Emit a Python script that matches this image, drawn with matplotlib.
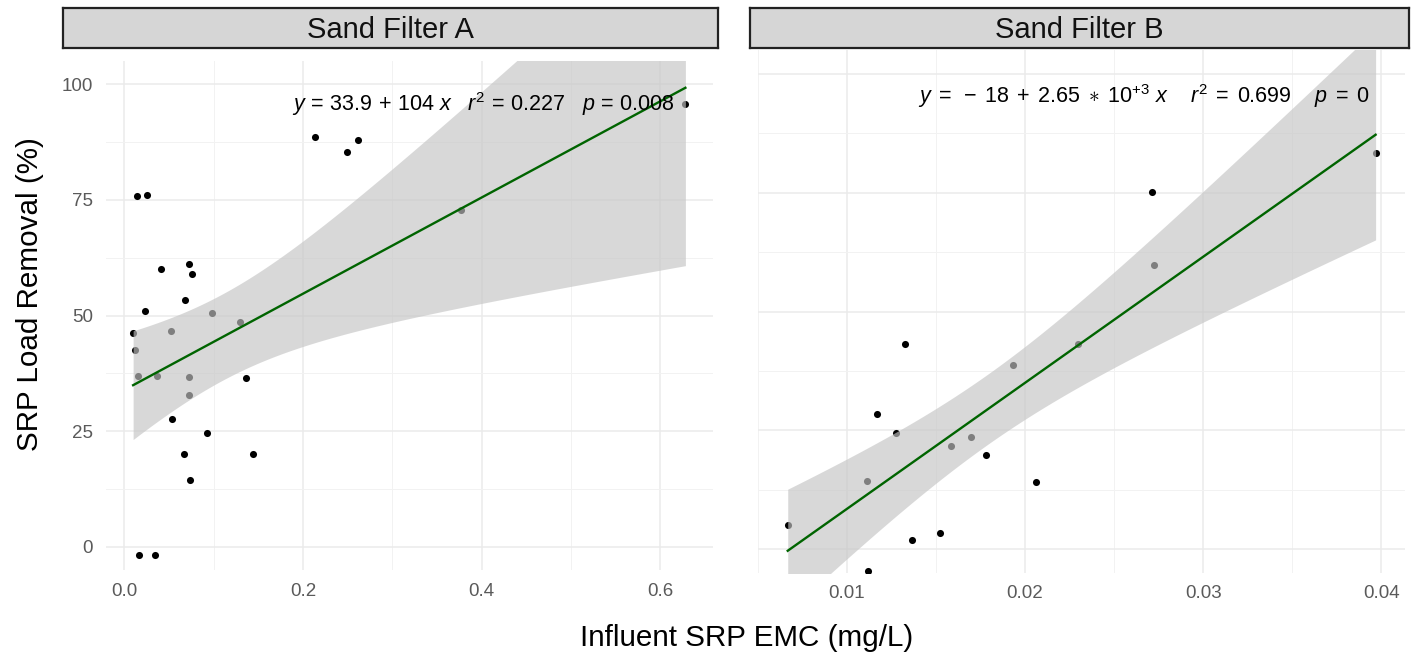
import numpy as np
import matplotlib
matplotlib.use("Agg")
import matplotlib.pyplot as plt

plt.rcParams['font.family'] = ['Liberation Sans', 'DejaVu Sans']
plt.rcParams['mathtext.fontset'] = 'custom'
plt.rcParams['mathtext.rm'] = 'Liberation Sans'
plt.rcParams['mathtext.it'] = 'Liberation Sans:italic'

#%% Data
# Sand Filter A
x_a = [0.010, 0.012, 0.015, 0.037, 0.052, 0.098, 0.130, 0.073, 0.072, 0.377,
       0.014, 0.026, 0.041, 0.072, 0.076, 0.068, 0.023, 0.213, 0.249, 0.262,
       0.628, 0.136, 0.054, 0.093, 0.067, 0.144, 0.074, 0.017, 0.034]
y_a = [46.2, 42.6, 36.9, 36.9, 46.6, 50.6, 48.6, 36.7, 32.9, 72.9,
       75.9, 76.0, 60.0, 61.2, 59.0, 53.4, 50.9, 88.6, 85.3, 88.0,
       95.8, 36.5, 27.6, 24.6, 20.1, 20.1, 14.4, -1.8, -1.8]

# Sand Filter B
x_b = [0.01324, 0.01935, 0.0230, 0.01168, 0.01275, 0.01697, 0.01585, 0.0178,
       0.01112, 0.02062, 0.00667, 0.01523, 0.01366, 0.01118, 0.02724, 0.02711,
       0.03969]
y_b = [43.2, 38.8, 43.2, 28.5, 24.4, 23.5, 21.8, 19.9,
       14.3, 14.1, 5.0, 3.5, 1.9, -4.5, 59.7, 75.1,
       83.3]

# fitted lines as printed on the chart (intercept, slope)
fit_a = (33.9, 104.0)
fit_b = (-18.0, 2650.0)
# residual sd of panel A, read from the width of its band
# (some observations of A fall outside the shown y range)
sd_a = 24.5

eq_a = r'$y\,=\,33.9\,+\,104\ x\quad r^2\,=\,0.227\quad p\,=\,0.008$'
eq_b = r'$y\;=\;-\;18\;+\;2.65\;\ast\;10^{+3}\ x\quad\ r^2\;=\;0.699\quad\ p\;=\;0$'

panels = ['Sand Filter A', 'Sand Filter B']
ylim = (-5, 105)
y_major = [0, 25, 50, 75, 100]
y_minor = [12.5, 37.5, 62.5, 87.5]
xa_major = [0.0, 0.2, 0.4, 0.6]
xa_minor = [0.1, 0.3, 0.5]
xb_major = [0.01, 0.02, 0.03, 0.04]
xb_minor = [0.005, 0.015, 0.025, 0.035]

# t quantiles (0.975) for n-2 degrees of freedom
t_a = 2.0518   # df = 27
t_b = 2.1314   # df = 15


def smooth_band(x, y, coef, t, sd=None):
    x = np.asarray(x); y = np.asarray(y)
    n = len(x)
    a, b = coef
    xs = np.linspace(x.min(), x.max(), 200)
    fit = a + b * xs
    if sd is None:
        res = y - (a + b * x)
        sd = np.sqrt(np.sum(res ** 2) / (n - 2))
    se = sd * np.sqrt(1.0 / n + (xs - x.mean()) ** 2 / np.sum((x - x.mean()) ** 2))
    return xs, fit, fit - t * se, fit + t * se


def draw_panel(ax, x, y, coef, t, sd, xmaj, xmin, eq, eqpos, show_y):
    x = np.asarray(x)
    span = x.max() - x.min()
    ax.set_xlim(x.min() - 0.05 * span, x.max() + 0.05 * span)
    ax.set_ylim(*ylim)
    ax.set_xticks(xmaj)
    ax.set_xticks(xmin, minor=True)
    ax.set_yticks(y_major)
    ax.set_yticks(y_minor, minor=True)
    ax.grid(which='major', color='#ebebeb', lw=1.1)
    ax.grid(which='minor', color='#f2f2f2', lw=0.7)
    ax.set_axisbelow(True)
    for sp in ax.spines.values():
        sp.set_visible(False)
    ax.tick_params(which='both', length=0, labelsize=13.5, labelcolor='#5a5a5a', pad=9)
    if not show_y:
        ax.set_yticklabels([])

    ax.scatter(x, y, s=26, color='black', zorder=2, linewidths=0)
    xs, fit, lo, hi = smooth_band(x, y, coef, t, sd)
    ax.fill_between(xs, lo, hi, color='#c4c4c4', alpha=0.65, lw=0, zorder=3)
    ax.plot(xs, fit, color='#006400', lw=1.7, zorder=4)
    ax.text(eqpos[0], eqpos[1], eq, transform=ax.transAxes, ha='right', va='center',
            fontsize=15.5, color='black', zorder=5)


W, H = 1419, 660
fig = plt.figure(figsize=(W / 100, H / 100), dpi=100)


def box(x0, y0, x1, y1):
    # pixel box (top-left origin) -> figure fraction rect
    return [x0 / W, 1 - y1 / H, (x1 - x0) / W, (y1 - y0) / H]


ax1 = fig.add_axes(box(105.5, 61, 713, 570))
ax2 = fig.add_axes(box(758, 50, 1405, 573))

draw_panel(ax1, x_a, y_a, fit_a, t_a, sd_a, xa_major, xa_minor, eq_a, (0.937, 0.9155), True)
draw_panel(ax2, x_b, y_b, fit_b, t_b, None, xb_major, xb_minor, eq_b, (0.945, 0.912), False)
ax1.set_xticklabels(['0.0', '0.2', '0.4', '0.6'])
ax2.set_xticklabels(['0.01', '0.02', '0.03', '0.04'])

# facet strips
for rect, name in zip([box(63, 8, 718, 48), box(750, 8, 1409, 48)], panels):
    sax = fig.add_axes(rect)
    sax.set_facecolor('#d6d6d6')
    sax.set_xticks([]); sax.set_yticks([])
    for sp in sax.spines.values():
        sp.set_linewidth(1.6)
        sp.set_color('#222222')
    sax.text(0.5, 0.46, name, ha='center', va='center', fontsize=21,
             color='#111111', transform=sax.transAxes)

fig.text(747 / W, 1 - 638 / H, 'Influent SRP EMC (mg/L)', ha='center', va='center',
         fontsize=21.3, color='black')
fig.text(30 / W, 1 - 294 / H, 'SRP Load Removal (%)', ha='center', va='center',
         rotation=90, fontsize=21.3, color='black')

fig.savefig('out.png', dpi=100)
